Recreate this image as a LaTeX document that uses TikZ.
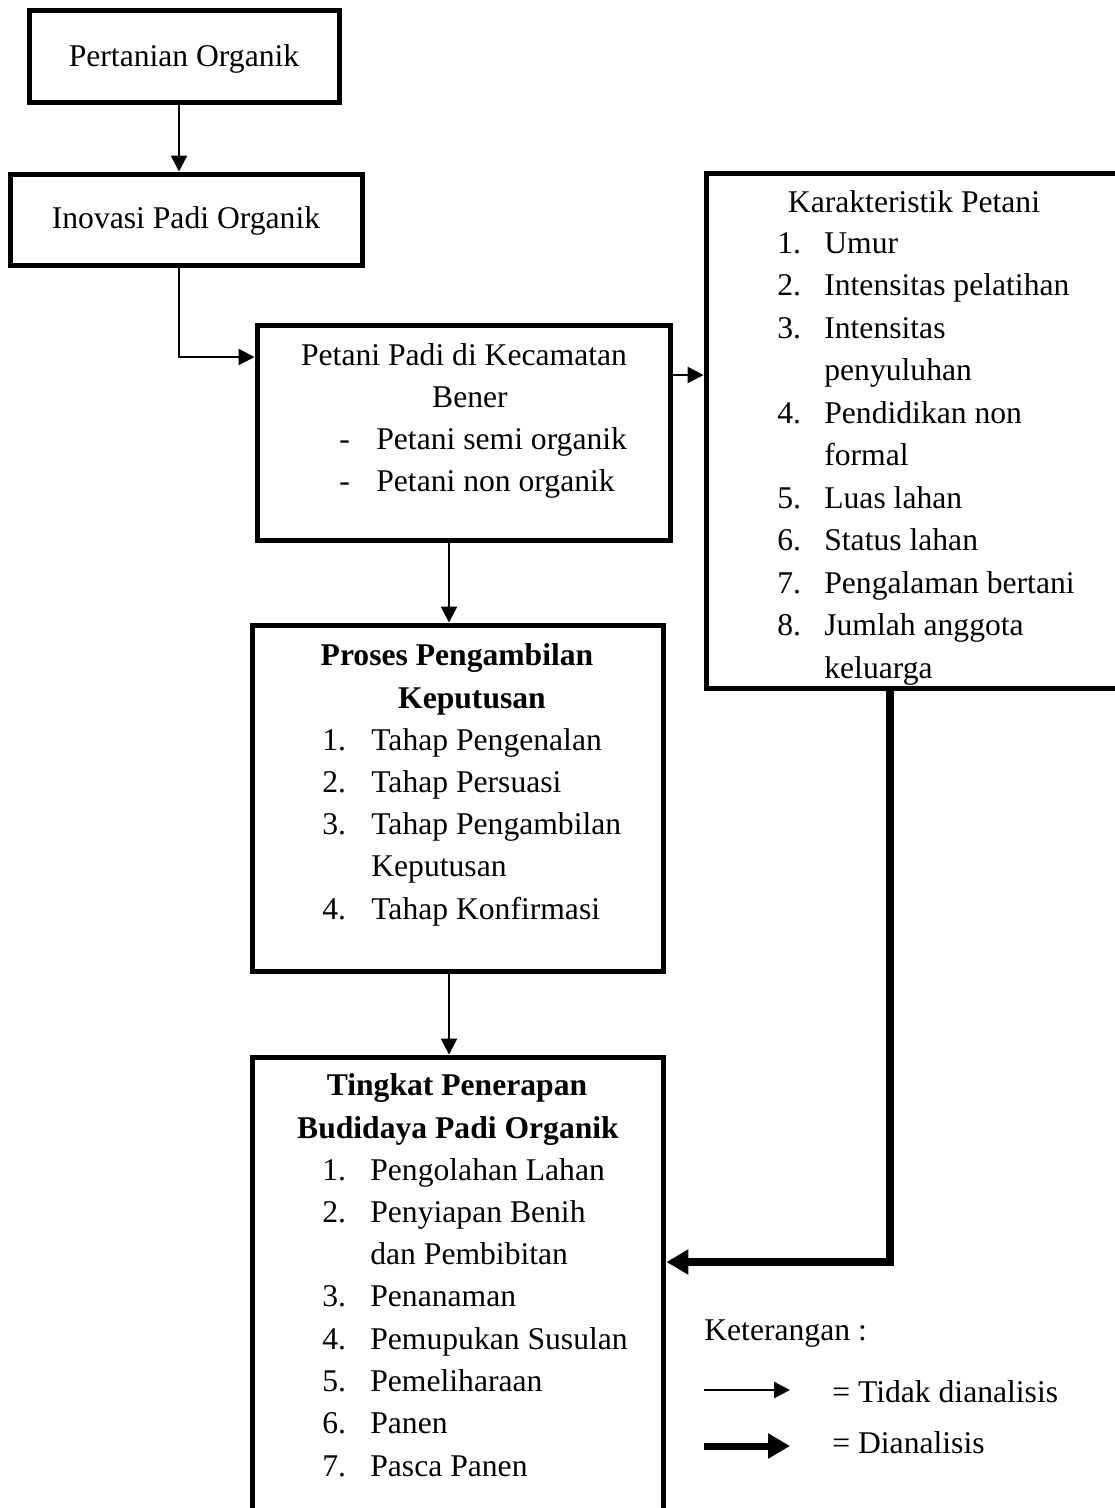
\documentclass[tikz,border=0pt]{standalone}
\usepackage{fontspec}
\setmainfont{Liberation Serif}
\usetikzlibrary{arrows.meta}

\begin{document}
\begin{tikzpicture}[x=0.02cm, y=-0.02cm,
    font=\fontsize{18}{24}\selectfont,
    box/.style={draw, line width=0.1cm, inner sep=0pt},
    txt/.style={inner sep=0pt, anchor=base west},
    mid/.style={inner sep=0pt, anchor=base},
    line/.style={line width=0.05cm, -{Triangle[length=0.32cm, width=0.32cm]}},
    bigline/.style={line width=0.16cm, -{Triangle[length=0.44cm, width=0.48cm]}}]
  \useasboundingbox (0,0) rectangle (1115,1508);
  \clip (0,0) rectangle (1115,1508);

  % Boxes
  \node[box, minimum width=6.22cm, minimum height=1.85cm] at (184.5, 56.75) (tani) {};
  \node[box, minimum width=7.06cm, minimum height=1.84cm] at (186.5, 220) (inovasi) {};
  \node[box, minimum width=8.28cm, minimum height=4.32cm] at (464, 433) (petani) {};
  \node[box, minimum width=8.38cm, minimum height=10.32cm] at (915.5, 431) (karakter) {};
  \node[box, minimum width=8.24cm, minimum height=6.94cm] at (458, 798.5) (proses) {};
  \node[box, minimum width=8.24cm, minimum height=9.46cm] at (458, 1293.5) (tingkat) {};

  % Texts
  \node[mid] at (184, 66) (tani-t) {Pertanian Organik};
  \node[mid] at (186, 228) (inovasi-t) {Inovasi Padi Organik};

  \node[mid] at (464, 365) (petani-t1) {Petani Padi di Kecamatan};
  \node[mid] at (470, 407) (petani-t2) {Bener};
  \node[txt] at (339, 449) (petani-d1) {-};
  \node[txt] at (376, 449) (petani-a) {Petani semi organik};
  \node[txt] at (339, 491) (petani-d2) {-};
  \node[txt] at (376, 491) (petani-b) {Petani non organik};

  \coordinate (cut) at (1115, 684);
  \begin{scope}
    \clip (karakter.north west) rectangle (cut);
    \node[mid] at (914, 212) (karakter-t) {Karakteristik Petani};
    \foreach \n/\t [count=\i from 0] in {1./Umur, 2./Intensitas pelatihan,
        3./Intensitas, /penyuluhan, 4./Pendidikan non, /formal, 5./Luas lahan,
        6./Status lahan, 7./Pengalaman bertani, 8./Jumlah anggota, /keluarga} {
      \node[txt] at (777, {253+42.5*\i}) (karakter-n\i) {\n};
      \node[txt] at (824, {253+42.5*\i}) (karakter-i\i) {\t};
    }
  \end{scope}

  \node[mid] at (457, 665) (proses-t1) {\textbf{Proses Pengambilan}};
  \node[mid] at (472, 708) (proses-t2) {\textbf{Keputusan}};
  \foreach \n/\t [count=\i from 0] in {1./Tahap Pengenalan, 2./Tahap Persuasi,
      3./Tahap Pengambilan, /Keputusan, 4./Tahap Konfirmasi} {
    \node[txt] at (322, {750+42.3*\i}) (proses-n\i) {\n};
    \node[txt] at (371, {750+42.3*\i}) (proses-i\i) {\t};
  }

  \node[mid] at (457, 1095) (tingkat-t1) {\textbf{Tingkat Penerapan}};
  \node[mid] at (458, 1138) (tingkat-t2) {\textbf{Budidaya Padi Organik}};
  \foreach \n/\t [count=\i from 0] in {1./Pengolahan Lahan, 2./Penyiapan Benih,
      /dan Pembibitan, 3./Penanaman, 4./Pemupukan Susulan, 5./Pemeliharaan,
      6./Panen, 7./Pasca Panen} {
    \node[txt] at (322, {1180+42.3*\i}) (tingkat-n\i) {\n};
    \node[txt] at (370, {1180+42.3*\i}) (tingkat-i\i) {\t};
  }

  % Connectors
  \coordinate (elbow) at (179, 357);
  \coordinate (spine) at (449, 600);
  \coordinate (side) at (688, 375);
  \coordinate (bend) at (890, 1262);

  \draw[line] (tani.south -| elbow) -- (inovasi.north -| elbow);
  \draw[line] (inovasi.south -| elbow) -- (elbow) -- (elbow -| petani.west);
  \draw[line] (side -| petani.east) -- (side -| karakter.west);
  \draw[line] (petani.south -| spine) -- (proses.north -| spine);
  \draw[line] (proses.south -| spine) -- (tingkat.north -| spine);
  \draw[bigline] (bend |- karakter.south) -- (bend) -- (bend -| tingkat.east);

  % Legend
  \node[txt] at (704, 1340) (ket) {Keterangan :};
  \coordinate (thin-a) at (704, 1390);
  \coordinate (thin-b) at (790, 1390);
  \coordinate (thick-a) at (704, 1446);
  \coordinate (thick-b) at (790, 1446);
  \draw[line] (thin-a) -- (thin-b);
  \draw[bigline, line width=0.14cm] (thick-a) -- (thick-b);
  \node[txt] at (832, 1402) (ket-1) {= Tidak dianalisis};
  \node[txt] at (832, 1453) (ket-2) {= Dianalisis};
\end{tikzpicture}
\end{document}
